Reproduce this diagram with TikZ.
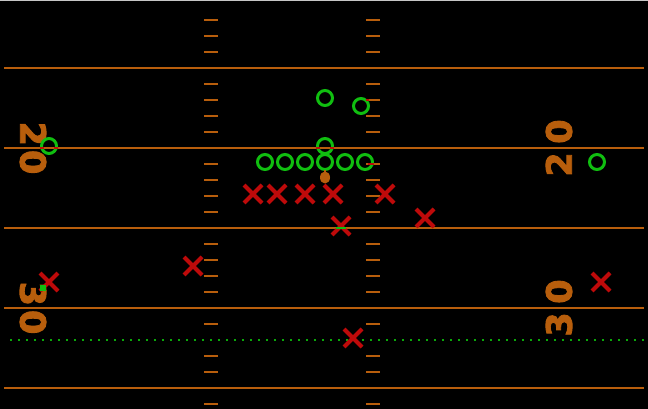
\documentclass[tikz,border=0pt]{standalone}
\usepackage{fontspec}
\newfontfamily\numfont{DejaVu Sans}[BoldFeatures={FakeBold=2.5}]
\usetikzlibrary{shapes.misc}
\definecolor{fieldorange}{RGB}{184,94,12}
\definecolor{pgreen}{RGB}{16,190,16}
\definecolor{pred}{RGB}{190,10,10}
\definecolor{dotgreen}{RGB}{10,170,10}
\tikzset{
  yard/.style={draw=fieldorange, line width=2.2pt},
  hashmark/.style={draw=fieldorange, line width=2pt},
  offense/.style={circle, draw=pgreen, line width=3pt, minimum size=15pt, inner sep=0pt},
  defense/.style={cross out, draw=pred, line width=4pt, minimum size=14pt, inner sep=0pt},
  yardnum/.style={text=fieldorange, font=\numfont\bfseries\fontsize{35}{35}\selectfont, inner sep=0pt},
  scrimmage/.style={draw=dotgreen, line width=2pt, dash pattern=on 2pt off 6pt},
  glitch/.style={fill=pred},
}
\begin{document}
\begin{tikzpicture}[x=1pt,y=-1pt]
\fill[black] (0,0) rectangle (648,409);
\useasboundingbox (0,0) rectangle (648,409);
\draw[gray!45, line width=1pt] (0,0.5) -- (648,0.5);
% yard lines
\foreach \y in {68,148,228,308,388} {\draw[yard] (4,\y) -- (644,\y);}
% hash marks
\foreach \y in {20,36,52,84,100,116,132,164,180,196,212,244,260,276,292,324,356,372,404} {
  \draw[hashmark] (204,\y) -- (218,\y);
  \draw[hashmark] (366,\y) -- (380,\y);
}
% line of scrimmage
\coordinate (losL) at (10,340);
\coordinate (losR) at (646,340);
\draw[scrimmage] (losL) -- (losR);
% yard numbers
\node[yardnum, rotate=-90] (n20l) at (33,148) {2\kern4pt 0};
\node[yardnum, rotate=90] (n20r) at (559,148) {2\kern8.5pt 0};
\node[yardnum, rotate=-90] (n30l) at (33,308) {3\kern4pt 0};
\node[yardnum, rotate=90] (n30r) at (559,308) {3\kern8.5pt 0};
% offense
\node[offense] (o1) at (325,98) {};
\node[offense] (o2) at (361,106) {};
\node[offense] (o3) at (325,146) {};
\node[offense] (o4) at (265,162) {};
\node[offense] (o5) at (285,162) {};
\node[offense] (o6) at (305,162) {};
\node[offense] (o7) at (325,162) {};
\node[offense] (o8) at (345,162) {};
\node[offense] (o9) at (365,162) {};
\node[offense] (o10) at (49,146) {};
\node[offense] (o11) at (597,162) {};
% ball
\fill[fieldorange] (324,170.5) rectangle (326,174);
\fill[fieldorange] (325,177.5) ellipse [x radius=5pt, y radius=6pt];
% defense
\node[defense] (d1) at (253,194) {};
\node[defense] (d2) at (277,194) {};
\node[defense] (d3) at (305,194) {};
\node[defense] (d4) at (333,194) {};
\node[defense] (d5) at (385,194) {};
\node[defense] (d6) at (341,226) {};
\node[defense] (d7) at (425,218) {};
\node[defense] (d8) at (193,266) {};
\node[defense] (d9) at (353,338) {};
\node[defense] (d10) at (49,282) {};
\node[defense] (d11) at (601,282) {};
% overlap glitches
\fill[glitch] (316,147) rectangle (320,149);
\fill[glitch] (330,147) rectangle (334,149);
\fill[glitch] (40,147) rectangle (44,149);
\fill[glitch] (54,147) rectangle (58,149);
\fill[glitch] (366,99) rectangle (369,101);
\fill[glitch] (368,163) rectangle (374,165);
\fill[pgreen] (336,227) rectangle (346,229);
\fill[pgreen] (40,285) rectangle (46,291);
\end{tikzpicture}
\end{document}
